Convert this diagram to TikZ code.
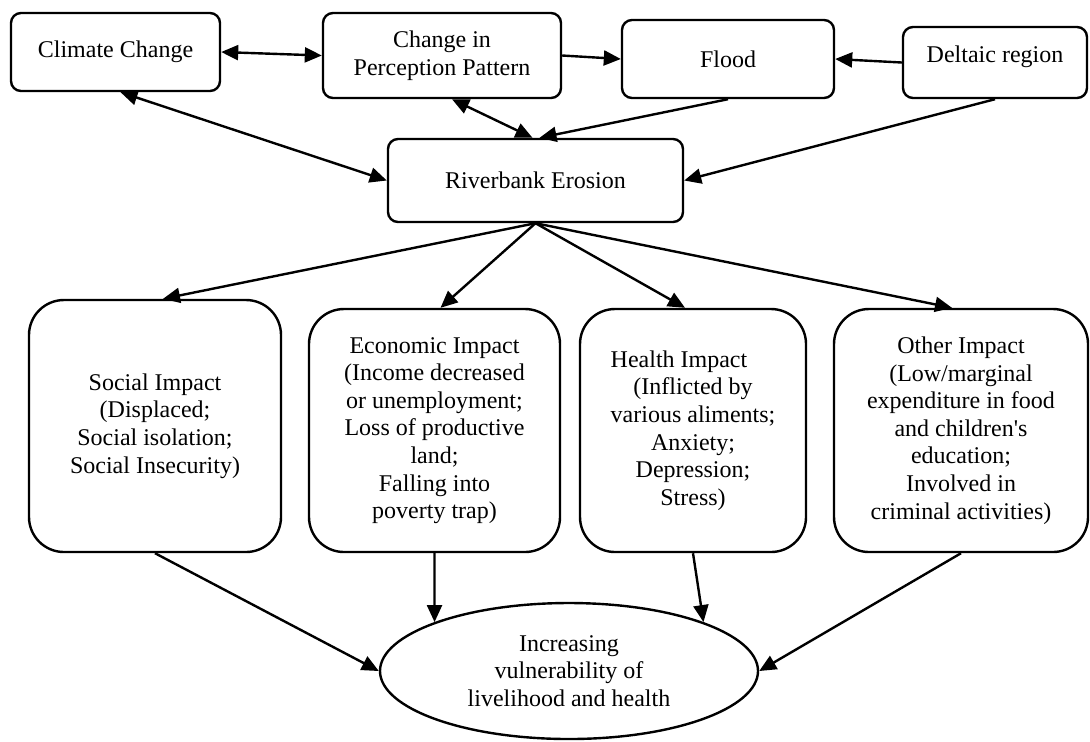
\documentclass[tikz,border=0pt]{standalone}
\usepackage{fontspec}
\setmainfont{Liberation Serif}
\usetikzlibrary{arrows.meta, shapes.geometric}

\begin{document}
\begin{tikzpicture}[x=0.5pt, y=-0.5pt,
	topbox/.style={draw, rectangle, rounded corners=5pt, line width=1.2pt, align=center,
		inner sep=0pt, font=\fontsize{12}{13.8}\selectfont},
	impbox/.style={draw, rectangle, rounded corners=17.5pt, line width=1.2pt, align=center,
		inner sep=0pt, minimum height=121.5pt, font=\fontsize{12}{13.8}\selectfont},
	linkarr/.style={-{Triangle[length=8.5pt,width=7.5pt]}, line width=1.2pt},
	twoarr/.style={{Triangle[length=8.5pt,width=7.5pt]}-{Triangle[length=8.5pt,width=7.5pt]}, line width=1.2pt}
]
	\useasboundingbox (0,0) rectangle (1090,741);

	% top row
	\node[topbox, minimum width=104.5pt, minimum height=39pt] at (115.5,52) (cc) {Climate Change};
	\node[topbox, minimum width=119pt, minimum height=42.5pt] at (442,55.5) (perc) {Change in\\Perception Pattern};
	\node[topbox, minimum width=106pt, minimum height=39pt] at (728,59) (flood) {Flood};
	\node[topbox, minimum width=92pt, minimum height=35.5pt, text depth=8.5pt] at (995,62.5) (delta) {Deltaic region};

	\node[topbox, minimum width=147.5pt, minimum height=41.5pt] at (535.5,180.5) (river) {Riverbank Erosion};

	% impacts
	\node[impbox, minimum width=126pt, minimum height=126pt] at (155,426) (social) {Social Impact\\(Displaced;\\Social isolation;\\Social Insecurity)};
	\node[impbox, minimum width=125.5pt] at (434.5,430.5) (econ) {Economic Impact\\(Income decreased\\or unemployment;\\Loss of productive\\land;\\Falling into\\poverty trap)};
	\node[impbox, minimum width=113pt] at (693,430.5) (health) {\rlap{Health Impact}\phantom{various aliments;}\\(Inflicted by\\various aliments;\\Anxiety;\\Depression;\\Stress)};
	\node[impbox, minimum width=127pt] at (961,430.5) (other) {Other Impact\\(Low/marginal\\expenditure in food\\and children\textquotesingle s\\education;\\Involved in\\criminal activities)};

	\node[draw, ellipse, line width=1.2pt, inner sep=0pt, minimum width=189pt, minimum height=68pt,
		align=center, font=\fontsize{12}{13.8}\selectfont] at (569,671) (ell) {Increasing\\vulnerability of\\livelihood and health};

	% connectors
	\draw[twoarr] (cc.east) -- (perc.west);
	\draw[linkarr] (perc.east) -- (flood.west);
	\draw[linkarr] (delta.west) -- (flood.east);
	\draw[twoarr] ([xshift=2.5pt]cc.south) -- (river.west);
	\draw[twoarr] ([xshift=5pt]perc.south) -- ([xshift=-1.5pt]river.north);
	\draw[linkarr] (flood.south) -- ([xshift=2pt]river.north);
	\draw[linkarr] (delta.south) -- (river.east);

	\draw[linkarr] (river.south) -- ([xshift=4pt]social.north);
	\draw[linkarr] (river.south) -- ([xshift=3pt]econ.north);
	\draw[linkarr] (river.south) -- ([xshift=-4pt]health.north);
	\draw[linkarr] (river.south) -- ([xshift=-4.5pt]other.north);

	\draw[linkarr] (social.south) -- (ell.west);
	\draw[linkarr] (econ.south) -- (ell.160);
	\draw[linkarr] (health.south) -- (ell.20);
	\draw[linkarr] (other.south) -- (ell.east);
\end{tikzpicture}
\end{document}
